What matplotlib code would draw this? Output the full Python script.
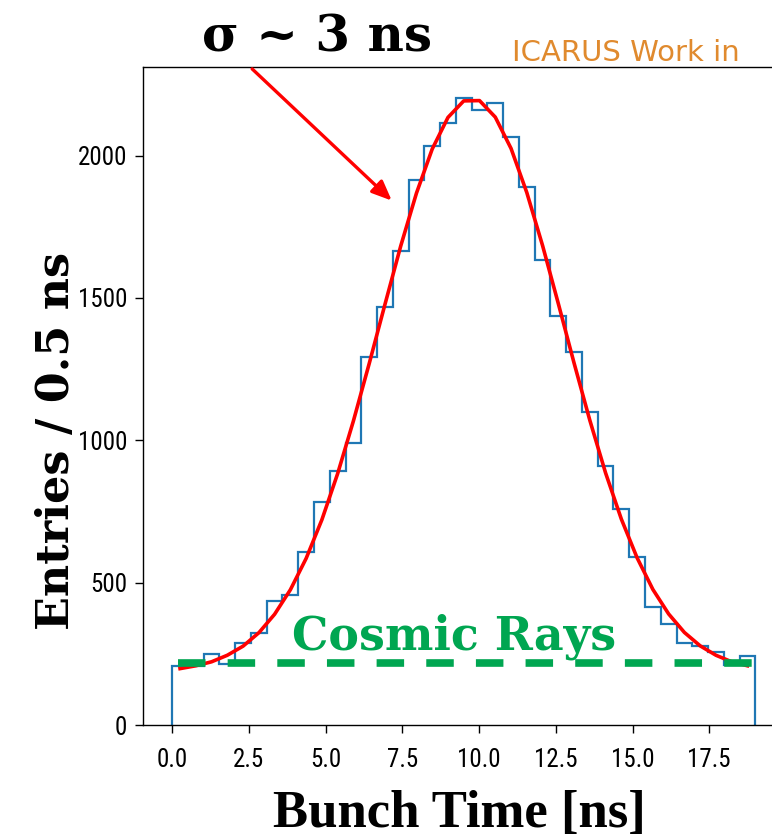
import numpy as np
import matplotlib
matplotlib.use('Agg')
import matplotlib.pyplot as plt
from matplotlib import font_manager

# bunch time histogram, 37 bins over 0-19 ns
t_min, t_max, n_bins = 0.0, 19.0, 37
counts = [207, 207, 250, 213, 288, 324, 434, 458, 608, 782,
          893, 992, 1292, 1468, 1666, 1915, 2032, 2116, 2201, 2160,
          2186, 2064, 1889, 1632, 1436, 1311, 1101, 910, 760, 591,
          413, 355, 287, 276, 255, 212, 244]
# gaussian fit, one value per bin centre
fit_vals = [198, 208, 222, 245, 277, 324, 389, 475, 585, 721,
            883, 1068, 1269, 1477, 1682, 1868, 2023, 2134, 2192, 2193,
            2135, 2025, 1870, 1684, 1480, 1271, 1070, 885, 723, 587,
            476, 390, 325, 278, 245, 222, 208]
cosmic_level = 219
x_ticks = [0.0, 2.5, 5.0, 7.5, 10.0, 12.5, 15.0, 17.5]
y_ticks = [0, 500, 1000, 1500, 2000]

# narrow font for tick labels if one is around
names = {f.name for f in font_manager.fontManager.ttflist}
tick_font, tick_size = 'DejaVu Sans', 12.5
for fam, size in [('Liberation Sans Narrow', 19), ('Roboto Condensed', 18),
                  ('Open Sans Condensed', 18)]:
    if fam in names:
        tick_font, tick_size = fam, size
        break

W, H = 772, 838
fig = plt.figure(figsize=(W / 100, H / 100), dpi=100)
ax = fig.add_axes([143 / W, 1 - 725 / H, 641.5 / W, 658 / H])

edges = np.linspace(t_min, t_max, n_bins + 1)
centers = (edges[:-1] + edges[1:]) / 2
ax.hist(edges[:-1], bins=edges, weights=counts, histtype='step',
        color='#1f77b4', lw=1.6, zorder=2)
ax.plot(centers, fit_vals, color='red', lw=2.6, zorder=3)
ax.hlines(cosmic_level, 0.2, 19.7, colors='#00a651', lw=5.5,
          linestyles=(0, (3.6, 2.9)), zorder=4)

ax.set_xlim(-0.95, 19.95)
ax.set_ylim(0, 2311)
ax.set_xticks(x_ticks)
ax.set_yticks(y_ticks)
ax.set_xticklabels([f'{v:.1f}' for v in x_ticks], fontfamily=tick_font, fontsize=tick_size)
ax.set_yticklabels([str(v) for v in y_ticks], fontfamily=tick_font, fontsize=tick_size)
ax.tick_params(length=5.5, width=1)
ax.tick_params(axis='x', pad=11)
ax.tick_params(axis='y', pad=6)
for s in ax.spines.values():
    s.set_linewidth(1)

ax.text(0.485, 0.115, 'Cosmic Rays', transform=ax.transAxes, ha='center', va='baseline',
        color='#00a651', fontsize=33, fontweight='bold', family='DejaVu Serif', zorder=5)

ax.annotate('', xy=(0.391, 0.794), xytext=(0.167, 1.0), xycoords='axes fraction',
            arrowprops=dict(arrowstyle='-|>,head_length=0.4,head_width=0.17',
                            color='red', lw=2.4, mutation_scale=30), annotation_clip=False)

fig.text(317 / W, 1 - 52 / H, 'σ ~ 3 ns', ha='center', va='baseline',
         fontsize=36, fontweight='bold', family='DejaVu Serif')
fig.text(626 / W, 1 - 61 / H, 'ICARUS Work in', ha='center', va='baseline',
         fontsize=21, color='#e08a2e', family='DejaVu Sans')
fig.text(459 / W, 1 - 827 / H, 'Bunch Time [ns]', ha='center', va='baseline',
         fontsize=38, fontweight='bold', family='Liberation Serif')
fig.text(57 / W, 1 - 441 / H, 'Entries / 0.5 ns', ha='center', va='center', rotation=90,
         fontsize=32, fontweight='bold', family='DejaVu Serif')

fig.savefig('out.png', dpi=100)
